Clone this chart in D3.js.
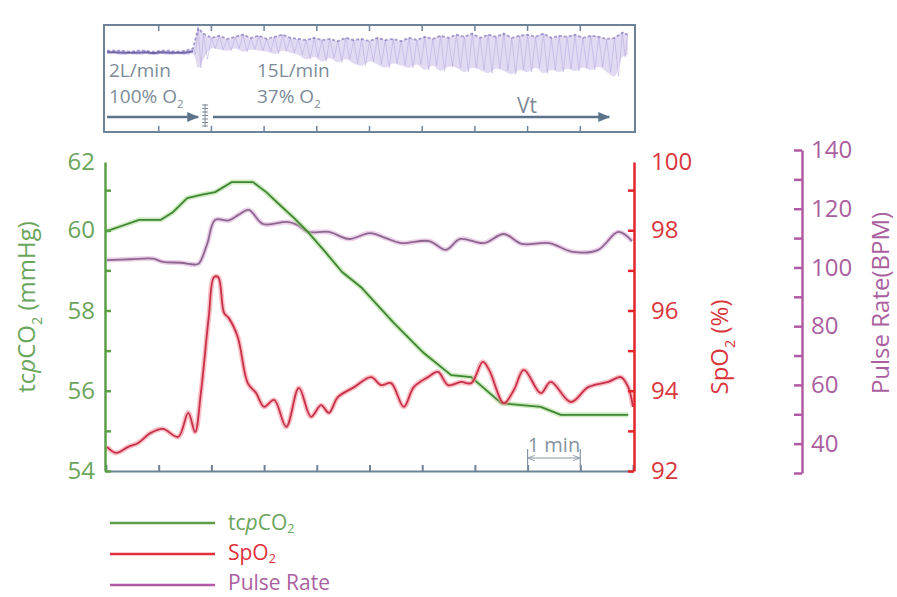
<!DOCTYPE html>
<html><head><meta charset="utf-8">
<script src="https://cdn.jsdelivr.net/npm/d3@7"></script>
<style>
body{margin:0;background:#fff;}
svg{display:block;font-family:"Open Sans",sans-serif;}
</style></head><body>
<svg id="c" width="897" height="597"></svg>
<script>
// ---------- data (time in minutes) ----------
const co2Time   = [0,0.28,0.63,1.04,1.27,1.54,1.80,2.07,2.39,2.79,3.04,3.30,3.57,3.83,4.16,4.48,4.84,5.46,6.03,6.55,6.93,7.50,8.25,8.63,9.91];
const co2Values = [59.97,60.1,60.26,60.26,60.45,60.8,60.88,60.95,61.2,61.2,60.95,60.63,60.3,59.96,59.46,58.96,58.58,57.69,56.94,56.39,56.34,55.69,55.6,55.4,55.4];

const spo2Time   = [0.02,0.19,0.42,0.61,0.85,1.08,1.37,1.56,1.69,1.80,1.95,2.05,2.13,2.24,2.33,2.50,2.69,2.85,3.00,3.19,3.42,3.66,3.89,4.08,4.23,4.40,4.71,5.03,5.22,5.41,5.65,5.84,6.11,6.30,6.49,6.74,6.93,7.15,7.27,7.55,7.74,7.93,8.25,8.44,8.82,9.15,9.53,9.77,9.91,10.0];
const spo2Values = [92.6,92.45,92.6,92.7,92.95,93.05,92.85,93.45,92.97,93.94,95.84,96.83,96.83,95.94,95.81,95.34,94.19,93.94,93.6,93.77,93.1,94.07,93.35,93.64,93.45,93.84,94.09,94.34,94.14,94.19,93.6,94.09,94.34,94.47,94.14,94.22,94.19,94.72,94.52,93.69,94.02,94.52,93.94,94.22,93.72,94.09,94.22,94.34,94.09,93.6];

const pulseTime   = [0.02,0.47,0.89,1.08,1.42,1.67,1.76,1.92,2.07,2.33,2.52,2.71,2.98,3.43,3.62,3.83,4.23,4.61,5.01,5.31,5.60,6.13,6.45,6.72,7.17,7.55,7.89,8.41,8.86,9.34,9.72,9.98];
const pulseValues = [102.5,102.8,103.0,101.9,101.6,101.0,101.3,108,116.2,116.0,118,119.6,114.8,115.5,114.6,112.1,112.1,109.7,111.7,110.0,108.3,109.0,106.0,109.7,108.3,111.4,108.0,108.3,105.3,106.0,112.1,109.0];

// top panel waveform envelope (relative amplitude 0-100)
const vtTime = [0.02,0.15,0.30,0.45,0.60,0.75,0.90,1.05,1.20,1.35,1.50,1.65,1.75,1.85,2.00,2.15,2.30,2.45,2.60,2.75,2.90,3.05,3.20,3.35,3.50,3.65,3.80,3.95,4.10,4.25,4.40,4.55,4.70,4.85,5.00,5.15,5.30,5.45,5.60,5.75,5.90,6.05,6.20,6.35,6.50,6.65,6.80,6.95,7.10,7.25,7.40,7.55,7.70,7.85,8.00,8.15,8.30,8.45,8.60,8.75,8.90,9.05,9.20,9.35,9.50,9.65,9.80,9.90];
const vtHigh = [76,76,76,75,76,76,75,76,76,75,76,78,97,92,88,90,87,89,91,88,90,87,89,91,88,87,86,88,86,87,85,88,86,87,85,88,86,87,85,88,86,89,87,90,88,91,89,92,88,91,89,92,88,90,91,89,92,88,90,89,91,88,90,89,87,88,93,91];
const vtLow  = [73,73,72,73,72,73,72,73,72,73,72,73,60,68,78,77,76,78,75,77,76,75,73,76,74,72,68,70,66,69,65,68,64,62,66,63,60,64,62,60,63,58,62,57,61,60,56,60,58,55,59,57,54,58,56,60,55,58,56,59,57,60,58,61,56,52,70,72];

const minuteTicks = [0,1,2,3,4,5,6,7,8,9,10];
const co2Ticks   = [54,55,56,57,58,59,60,61];
const co2Labels  = ["54","","56","","58","","60",""];
const co2TopLabel = "62";
const spo2Ticks  = [92,93,94,95,96,97,98,99];
const spo2Labels = ["92","","94","","96","","98",""];
const spo2TopLabel = "100";
const pulseTicks = [30,40,50,60,70,80,90,100,110,120,130,140];
const pulseLabels = ["","40","","60","","80","","100","","120","","140"];

const legendNames = ["tcpCO2","SpO2","Pulse Rate"];

// ---------- colours ----------
const cGreen = "#5c9e48", cGreenTxt = "#6aa55c", cGreenLine = "#3f8633", cGreenGlow = "#a8d890";
const cRed = "#e3242b", cRedTxt = "#d9363e", cRedLine = "#c8304a", cRedGlow = "#f48a96";
const cPur = "#b25aa5", cPurTxt = "#aa5f9f", cPurLine = "#8d6690", cPurGlow = "#dcaad8";
const cGrey = "#6e8298", cGreyTxt = "#7d8b98";

const svg = d3.select("#c");
const defs = svg.append("defs");
defs.append("marker").attr("id","arr").attr("viewBox","0 0 12 10").attr("refX",11).attr("refY",5)
  .attr("markerWidth",12).attr("markerHeight",10).attr("markerUnits","userSpaceOnUse").attr("orient","auto")
  .append("path").attr("d","M0,0 L12,5 L0,10 Z").attr("fill","#5b7489");
defs.append("marker").attr("id","sarr").attr("viewBox","0 0 8 6").attr("refX",7).attr("refY",3)
  .attr("markerWidth",7).attr("markerHeight",6).attr("markerUnits","userSpaceOnUse").attr("orient","auto-start-reverse")
  .append("path").attr("d","M0,0 L8,3 L0,6").attr("fill","none").attr("stroke","#8795a3").attr("stroke-width",1);

// ---------- scales ----------
const x = d3.scaleLinear().domain([0,10]).range([106,633]);
const yCO2 = d3.scaleLinear().domain([54,62]).range([471,150]);
const ySpO2 = d3.scaleLinear().domain([92,100]).range([471,150]);
const yPulse = d3.scaleLinear().domain([30,140]).range([473,150]);
const yVt = d3.scaleLinear().domain([0,100]).range([132,25]);

// ---------- top panel ----------
const box = {l:104, r:635, t:25, b:132};
const topG = svg.append("g");
topG.append("rect").attr("x",box.l).attr("y",box.t).attr("width",box.r-box.l).attr("height",box.b-box.t)
  .attr("fill","#fff").attr("stroke",cGrey).attr("stroke-width",2);
const vtData = vtTime.map((t,i)=>({t, hi:vtHigh[i], lo:vtLow[i]}));
topG.append("path").datum(vtData)
  .attr("d", d3.area().x(d=>x(d.t)).y0(d=>yVt(d.lo)).y1(d=>yVt(d.hi)).curve(d3.curveCatmullRom))
  .attr("fill","#d9d1ef").attr("opacity",0.8);
const zig = [];
vtData.forEach((d,i)=>{ zig.push([x(d.t), yVt(d.hi)]); if(i<vtData.length-1){ zig.push([(x(d.t)+x(vtData[i+1].t))/2, yVt(d.lo)]); } });
topG.append("path").attr("d", d3.line()(zig)).attr("fill","none").attr("stroke","#a898d6").attr("stroke-width",1).attr("opacity",0.4);
topG.append("path").datum(vtData).attr("d", d3.line().x(d=>x(d.t)).y(d=>yVt(d.hi)))
  .attr("fill","none").attr("stroke","#6656a8").attr("stroke-width",1.8).attr("stroke-dasharray","3,2").attr("opacity",0.55);
topG.append("path").datum(vtData.slice(0,12)).attr("d", d3.line().x(d=>x(d.t)).y(d=>yVt((d.hi+d.lo)/2)))
  .attr("fill","none").attr("stroke","#4a3a8e").attr("stroke-width",2).attr("opacity",0.7);
minuteTicks.slice(1,10).forEach(t=>{
  topG.append("line").attr("x1",x(t)).attr("x2",x(t)).attr("y1",box.t+1).attr("y2",box.t+6).attr("stroke",cGrey).attr("stroke-width",1.5);
  topG.append("line").attr("x1",x(t)).attr("x2",x(t)).attr("y1",box.b-6).attr("y2",box.b-1).attr("stroke",cGrey).attr("stroke-width",1.5);
});
function subText(g, parts, size, sub){
  const shift = sub === undefined ? size*0.28 : sub;
  parts.forEach(p=>{
    const ts = g.append("tspan").text(p.t);
    if(p.i) ts.attr("font-style","italic");
    if(p.s){ ts.attr("font-size", size*0.6).attr("dy", shift); }
    else if(p.back){ ts.attr("dy", -shift); }
  });
}
topG.append("text").attr("x",109).attr("y",77).attr("font-size",19).attr("fill",cGreyTxt).text("2L/min");
const t100 = topG.append("text").attr("x",109).attr("y",103).attr("font-size",19).attr("fill",cGreyTxt);
subText(t100,[{t:"100% O"},{t:"2",s:1}],19);
topG.append("text").attr("x",257).attr("y",77).attr("font-size",19).attr("fill",cGreyTxt).text("15L/min");
const t37 = topG.append("text").attr("x",257).attr("y",103).attr("font-size",19).attr("fill",cGreyTxt);
subText(t37,[{t:"37% O"},{t:"2",s:1}],19);
topG.append("text").attr("x",517).attr("y",113).attr("font-size",21).attr("fill",cGreyTxt).text("Vt");
topG.append("line").attr("x1",x(0.02)).attr("x2",x(1.75)).attr("y1",117).attr("y2",117)
  .attr("stroke","#5b7489").attr("stroke-width",2.5).attr("marker-end","url(#arr)");
topG.append("line").attr("x1",x(2.03)).attr("x2",x(9.55)).attr("y1",117).attr("y2",117)
  .attr("stroke","#5b7489").attr("stroke-width",2.5).attr("marker-end","url(#arr)");
const mx = x(1.88);
topG.append("line").attr("x1",mx).attr("x2",mx).attr("y1",104).attr("y2",127).attr("stroke","#7a8a9a").attr("stroke-width",1);
d3.range(105,127,3.5).forEach(yy=>topG.append("line").attr("x1",mx-3).attr("x2",mx+3).attr("y1",yy).attr("y2",yy).attr("stroke","#7a8a9a").attr("stroke-width",1));

// ---------- main plot lines ----------
function drawLine(times, vals, ys, core, glow, curve){
  const data = times.map((t,i)=>[x(t), ys(vals[i])]);
  const gen = d3.line().curve(curve);
  svg.append("path").attr("d",gen(data)).attr("fill","none").attr("stroke",glow).attr("stroke-width",5).attr("opacity",0.55).attr("stroke-linejoin","round");
  svg.append("path").attr("d",gen(data)).attr("fill","none").attr("stroke",core).attr("stroke-width",1.8).attr("stroke-linejoin","round");
}
drawLine(pulseTime, pulseValues, yPulse, cPurLine, cPurGlow, d3.curveCatmullRom);
drawLine(co2Time, co2Values, yCO2, cGreenLine, cGreenGlow, d3.curveLinear);
drawLine(spo2Time, spo2Values, ySpO2, cRedLine, cRedGlow, d3.curveCatmullRom);

// ---------- axes ----------
const xAx = svg.append("g").attr("transform","translate(0,471)")
  .call(d3.axisBottom(x).tickValues(minuteTicks).tickSizeInner(-6).tickSizeOuter(0).tickFormat(""));
xAx.selectAll("path,line").attr("stroke",cGrey).attr("stroke-width",2);

const co2Axis = yCO2.copy().domain([54,61.7]).range([yCO2(54), yCO2(61.7)]);
const lAx = svg.append("g").attr("transform","translate(105,0)")
  .call(d3.axisLeft(co2Axis).tickValues(co2Ticks).tickSizeInner(-6).tickSizeOuter(0).tickPadding(10)
  .tickFormat((d,i)=>co2Labels[i]));
lAx.selectAll("path,line").attr("stroke",cGreen).attr("stroke-width",2.5);
lAx.selectAll("text").attr("fill",cGreenTxt).attr("font-size",24).attr("font-family","Open Sans");
lAx.append("text").attr("x",-10).attr("y",co2Axis(61.7)).attr("dy","0.32em").attr("text-anchor","end")
  .attr("fill",cGreenTxt).attr("font-size",24).attr("font-family","Open Sans").text(co2TopLabel);

const spo2Axis = ySpO2.copy().domain([92,99.7]).range([ySpO2(92), ySpO2(99.7)]);
const rAx = svg.append("g").attr("transform","translate(634,0)")
  .call(d3.axisRight(spo2Axis).tickValues(spo2Ticks).tickSizeInner(-6).tickSizeOuter(0).tickPadding(17)
  .tickFormat((d,i)=>spo2Labels[i]));
rAx.selectAll("path,line").attr("stroke",cRed).attr("stroke-width",2.5);
rAx.selectAll("text").attr("fill",cRedTxt).attr("font-size",24).attr("font-family","Open Sans");
rAx.append("text").attr("x",17).attr("y",spo2Axis(99.7)).attr("dy","0.32em").attr("text-anchor","start")
  .attr("fill",cRedTxt).attr("font-size",24).attr("font-family","Open Sans").text(spo2TopLabel);

const pAx = svg.append("g").attr("transform","translate(802,0)")
  .call(d3.axisRight(yPulse).tickValues(pulseTicks).tickSizeInner(-8).tickSizeOuter(0).tickPadding(9)
  .tickFormat((d,i)=>pulseLabels[i]));
pAx.selectAll("path,line").attr("stroke",cPur).attr("stroke-width",2.5);
pAx.selectAll("text").attr("fill",cPurTxt).attr("font-size",24).attr("font-family","Open Sans");

const tl = svg.append("text").attr("transform","translate(27,307) rotate(-90)").attr("text-anchor","middle")
  .attr("dy","0.35em").attr("font-size",24).attr("fill",cGreenTxt);
subText(tl,[{t:"tc"},{t:"p",i:1},{t:"CO"},{t:"2",s:1},{t:" (mmHg)",back:1}],24);
const tr = svg.append("text").attr("transform","translate(720,347) rotate(-90)").attr("text-anchor","middle")
  .attr("dy","0.35em").attr("font-size",24).attr("fill",cRedTxt);
subText(tr,[{t:"SpO"},{t:"2",s:1},{t:" (%)",back:1}],24);
svg.append("text").attr("transform","translate(881,303) rotate(-90)").attr("text-anchor","middle")
  .attr("dy","0.35em").attr("font-size",24).attr("fill",cPurTxt).text("Pulse Rate(BPM)");

const sb = svg.append("g").attr("stroke","#8795a3").attr("stroke-width",1.2);
sb.append("line").attr("x1",x(8)).attr("x2",x(8)).attr("y1",449).attr("y2",467);
sb.append("line").attr("x1",x(9)).attr("x2",x(9)).attr("y1",449).attr("y2",467);
sb.append("line").attr("x1",x(8)+1).attr("x2",x(9)-1).attr("y1",458).attr("y2",458)
  .attr("marker-start","url(#sarr)").attr("marker-end","url(#sarr)");
svg.append("text").attr("x",(x(8)+x(9))/2).attr("y",452).attr("text-anchor","middle")
  .attr("font-size",20).attr("fill","#8795a3").text("1 min");

const legColors = [cGreen, "#e0303c", cPur];
const legTxt = [cGreenTxt, "#e0303c", cPurTxt];
const legY = [523, 554, 585];
const legBase = [530, 560, 590];
legendNames.forEach((n,i)=>{
  svg.append("line").attr("x1",110).attr("x2",215).attr("y1",legY[i]).attr("y2",legY[i])
    .attr("stroke",legColors[i]).attr("stroke-width",2.5);
  const t = svg.append("text").attr("x",228).attr("y",legBase[i]).attr("font-size",21).attr("fill",legTxt[i]);
  if(i===0) subText(t,[{t:"tc"},{t:"p",i:1},{t:"CO"},{t:"2",s:1}],21,3);
  else if(i===1) subText(t,[{t:"SpO"},{t:"2",s:1}],21,3);
  else t.text(n);
});
</script>
</body></html>
